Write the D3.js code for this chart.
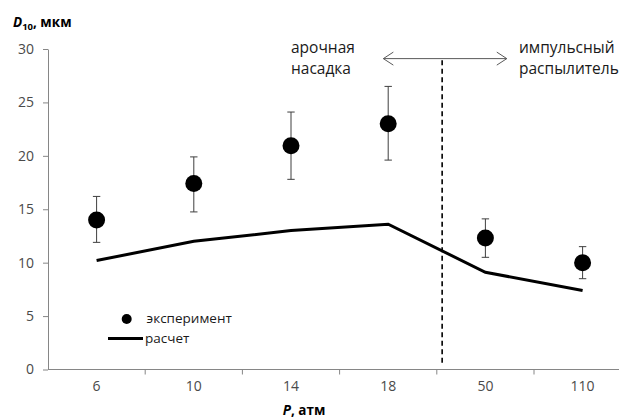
<!DOCTYPE html>
<html>
<head>
<meta charset="utf-8">
<script src="https://cdn.jsdelivr.net/npm/d3@7"></script>
<style>
  body { margin: 0; background: #fff; }
  svg { display: block; font-family: "Open Sans", sans-serif; }
</style>
</head>
<body>
<div id="chart"></div>
<script>
const width = 619, height = 419;

// data
const categories = ["6", "10", "14", "18", "50", "110"];
const experiment = [14.0, 17.4, 20.95, 23.0, 12.3, 10.0];
const errUpper = [16.2, 19.9, 24.1, 26.5, 14.1, 11.5];
const errLower = [11.9, 14.75, 17.8, 19.6, 10.5, 8.5];
const calculated = [10.2, 12.0, 13.0, 13.6, 9.1, 7.4];
const yTicks = [0, 5, 10, 15, 20, 25, 30];

const plotLeft = 48, plotBottom = 369.5, plotTop = 49, band = 97.2;

const svg = d3.select("#chart").append("svg")
    .attr("width", width)
    .attr("height", height);

const x = d3.scaleBand()
    .domain(categories)
    .range([plotLeft, plotLeft + band * categories.length]);
const y = d3.scaleLinear()
    .domain([0, 30])
    .range([plotBottom, plotTop]);
const cx = c => x(c) + x.bandwidth() / 2;

// y axis
const yAxis = svg.append("g")
    .attr("transform", "translate(" + plotLeft + ",0)")
    .call(d3.axisLeft(y).tickValues(yTicks).tickSizeInner(5).tickSizeOuter(0).tickPadding(9));
yAxis.select(".domain").attr("stroke", "#868686");
yAxis.selectAll(".tick line").attr("stroke", "#868686");
yAxis.selectAll(".tick text")
    .attr("fill", "#4a4a4a")
    .attr("font-size", 14)
    .attr("font-family", "Open Sans");

// x axis: labels in band centres, ticks on band edges
const xAxis = svg.append("g")
    .attr("transform", "translate(0," + plotBottom + ")")
    .call(d3.axisBottom(x).tickSize(0).tickPadding(12));
xAxis.select(".domain").remove();
xAxis.selectAll(".tick text")
    .attr("fill", "#4a4a4a")
    .attr("font-size", 14)
    .attr("font-family", "Open Sans");
xAxis.append("line")
    .attr("x1", plotLeft).attr("x2", width)
    .attr("y1", 0).attr("y2", 0)
    .attr("stroke", "#868686");
xAxis.selectAll(".edge")
    .data(categories.slice(1))
    .enter().append("line")
    .attr("class", "edge")
    .attr("x1", d => x(d)).attr("x2", d => x(d))
    .attr("y1", 0).attr("y2", 5)
    .attr("stroke", "#868686");

// axis titles
const yTitle = svg.append("text")
    .attr("x", 13).attr("y", 27)
    .attr("font-size", 13.5)
    .attr("font-weight", "bold")
    .attr("fill", "#000");
yTitle.append("tspan").attr("font-style", "italic").text("D");
yTitle.append("tspan").attr("font-size", 9.5).attr("dy", 3).text("10");
yTitle.append("tspan").attr("dy", -3).text(", мкм");

const xTitle = svg.append("text")
    .attr("x", 304).attr("y", 415)
    .attr("text-anchor", "middle")
    .attr("font-size", 13.5)
    .attr("font-weight", "bold")
    .attr("fill", "#000");
xTitle.append("tspan").attr("font-style", "italic").text("P");
xTitle.append("tspan").text(", атм");

// divider between nozzle types
const dividerX = x("50") + x.bandwidth() * 0.055;
svg.append("line")
    .attr("x1", dividerX).attr("x2", dividerX)
    .attr("y1", y(28.95)).attr("y2", y(0.6))
    .attr("stroke", "#000")
    .attr("stroke-width", 1.6)
    .attr("stroke-dasharray", "5,3.5");

// double arrow
const arrowY = y(29.1);
const ax1 = x("18") + x.bandwidth() * 0.45, ax2 = x("50") + x.bandwidth() * 0.72;
svg.append("line")
    .attr("x1", ax1).attr("x2", ax2)
    .attr("y1", arrowY).attr("y2", arrowY)
    .attr("stroke", "#595959");
svg.append("path")
    .attr("d", "M" + (ax1 + 10) + "," + (arrowY - 6.5) + "L" + ax1 + "," + arrowY + "L" + (ax1 + 10) + "," + (arrowY + 6.5))
    .attr("fill", "none").attr("stroke", "#595959");
svg.append("path")
    .attr("d", "M" + (ax2 - 10) + "," + (arrowY - 6.5) + "L" + ax2 + "," + arrowY + "L" + (ax2 - 10) + "," + (arrowY + 6.5))
    .attr("fill", "none").attr("stroke", "#595959");

const notes = svg.append("g")
    .attr("font-size", 15.5)
    .attr("fill", "#1a1a1a");
notes.append("text").attr("x", 291).attr("y", 52.5).text("арочная");
notes.append("text").attr("x", 291).attr("y", 74).text("насадка");
notes.append("text").attr("x", 519).attr("y", 52.5).text("импульсный");
notes.append("text").attr("x", 519).attr("y", 74).text("распылитель");

// calculated line
const line = d3.line()
    .x((d, i) => cx(categories[i]))
    .y(d => y(d));
svg.append("path")
    .datum(calculated)
    .attr("d", line)
    .attr("fill", "none")
    .attr("stroke", "#000")
    .attr("stroke-width", 3);

// error bars
const err = svg.append("g").attr("stroke", "#3f3f3f").attr("stroke-width", 1);
categories.forEach((c, i) => {
    err.append("line")
        .attr("x1", cx(c)).attr("x2", cx(c))
        .attr("y1", y(errUpper[i])).attr("y2", y(errLower[i]));
    [errUpper[i], errLower[i]].forEach(v => {
        err.append("line")
            .attr("x1", cx(c) - 3.7).attr("x2", cx(c) + 3.7)
            .attr("y1", y(v)).attr("y2", y(v));
    });
});

// experiment points
svg.selectAll(".pt")
    .data(experiment)
    .enter().append("circle")
    .attr("class", "pt")
    .attr("cx", (d, i) => cx(categories[i]))
    .attr("cy", d => y(d))
    .attr("r", 8.5)
    .attr("fill", "#000");

// legend
const legend = svg.append("g").attr("font-size", 13.5).attr("fill", "#1a1a1a");
legend.append("circle").attr("cx", 126.7).attr("cy", 319).attr("r", 5).attr("fill", "#000");
legend.append("text").attr("x", 146.5).attr("y", 323).text("эксперимент");
legend.append("line")
    .attr("x1", 108).attr("x2", 143)
    .attr("y1", 338.5).attr("y2", 338.5)
    .attr("stroke", "#000").attr("stroke-width", 3);
legend.append("text").attr("x", 145).attr("y", 342.5).text("расчет");
</script>
</body>
</html>
